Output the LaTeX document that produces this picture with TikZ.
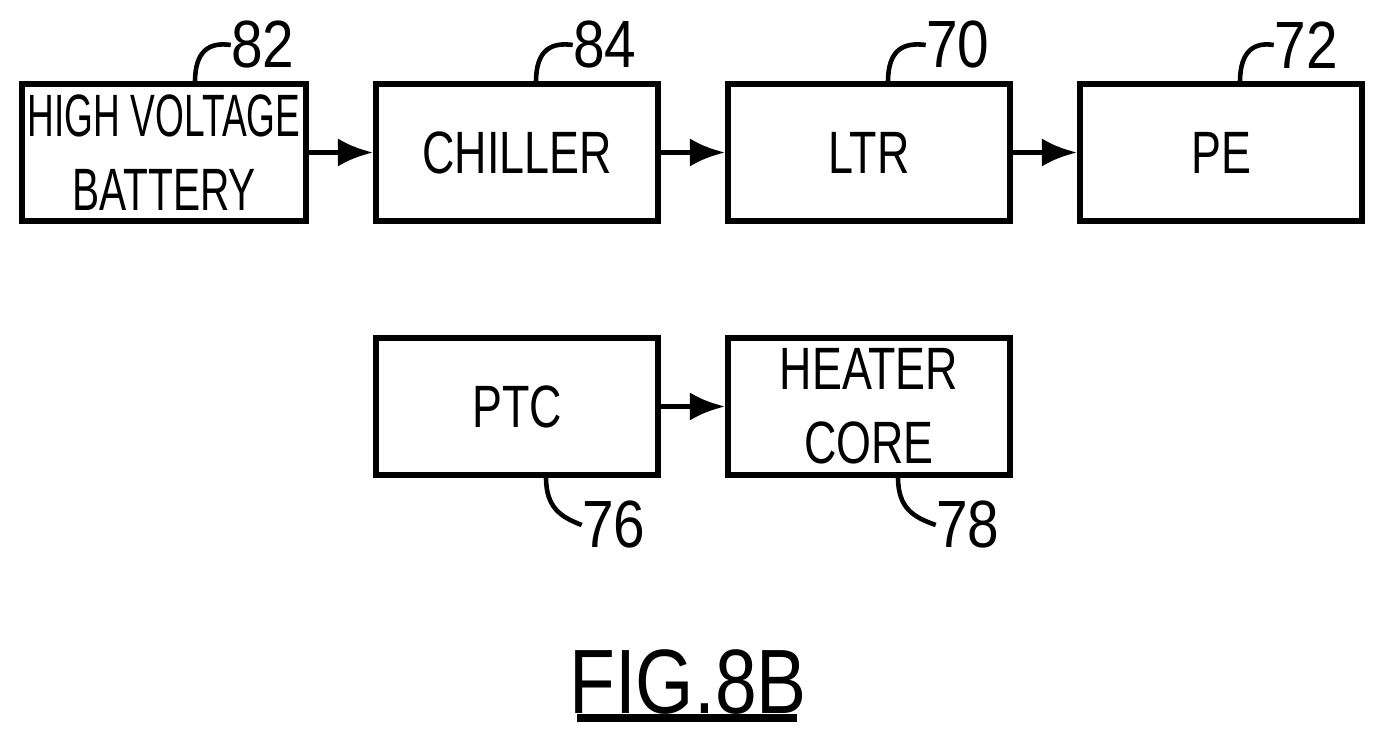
\documentclass[tikz,border=0pt]{standalone}
\usepackage{fontspec}
\setmainfont{Liberation Sans}
\usetikzlibrary{arrows.meta}
\begin{document}
\begin{tikzpicture}[x=0.01cm,y=-0.01cm,
 box/.style={draw,line width=1.6pt,minimum width=2.82cm,minimum height=1.37cm,inner sep=0pt,align=center,font=\fontsize{17}{21}\selectfont},
 arr/.style={line width=1.6pt,-{Latex[length=10pt,width=8pt]}},
 lead/.style={line width=1.3pt},
 num/.style={font=\fontsize{19}{22}\selectfont,inner sep=0pt}]
\useasboundingbox (0,0) rectangle (1387,752);
\node[box,minimum width=2.84cm] (hv) at (164,152.5) {\scalebox{0.62}[1]{HIGH VOLTAGE}\\\scalebox{0.68}[1]{BATTERY}};
\node[box] (ch) at (517,152.5) {\scalebox{0.75}[1]{CHILLER}};
\node[box] (ltr) at (869,152.5) {\scalebox{0.75}[1]{LTR}};
\node[box] (pe) at (1221,152.5) {\scalebox{0.75}[1]{PE}};
\node[box] (ptc) at (517,406.5) {\scalebox{0.75}[1]{PTC}};
\node[box] (hc) at (869,406.5) {\scalebox{0.75}[1]{HEATER}\\\scalebox{0.75}[1]{CORE}};
\draw[arr] (hv) -- (ch);
\draw[arr] (ch) -- (ltr);
\draw[arr] (ltr) -- (pe);
\draw[arr] (ptc) -- (hc);
\node[num] (n82) at (263,45) {\scalebox{0.85}[1]{82}};
\node[num] (n84) at (605,45) {\scalebox{0.85}[1]{84}};
\node[num] (n70) at (958,45) {\scalebox{0.85}[1]{70}};
\node[num] (n72) at (1306,45) {\scalebox{0.85}[1]{72}};
\node[num] (n76) at (614,525) {\scalebox{0.85}[1]{76}};
\node[num] (n78) at (968,525) {\scalebox{0.85}[1]{78}};
\draw[lead] (195,82) .. controls (195,50) and (210,42) .. (n82.west);
\draw[lead] (536,82) .. controls (536,50) and (551,42) .. (n84.west);
\draw[lead] (888,82) .. controls (888,50) and (903,42) .. (n70.west);
\draw[lead] (1240,82) .. controls (1240,50) and (1255,42) .. (n72.west);
\draw[lead] (546,477) .. controls (546,508) and (561,517) .. (n76.west);
\draw[lead] (898,477) .. controls (898,508) and (913,517) .. (n78.west);
\node[font=\fontsize{26}{30}\selectfont,inner sep=0pt] (fig) at (688,682) {\scalebox{0.82}[1]{FIG.8B}};
\draw[line width=2.5pt] (577,718) -- (797,718);
\end{tikzpicture}
\end{document}
